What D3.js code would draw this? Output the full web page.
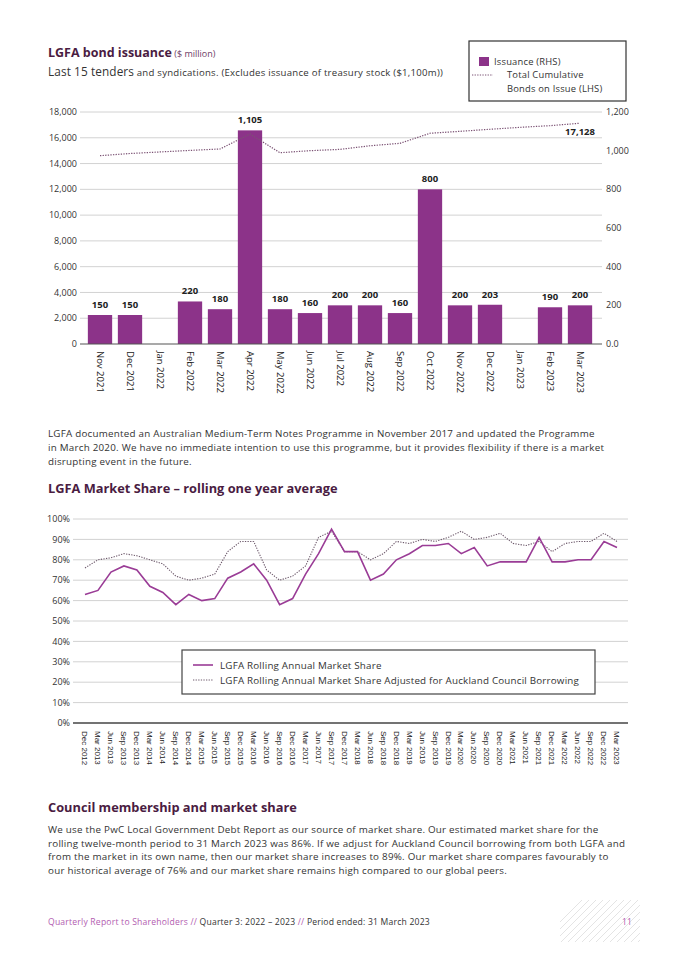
<!DOCTYPE html>
<html>
<head>
<meta charset="utf-8">
<title>LGFA bond issuance and market share</title>
<script src="https://cdn.jsdelivr.net/npm/d3@7/dist/d3.min.js"></script>
<style>
body { margin: 0; background: #fff; }
svg { display: block; font-family: "Open Sans", sans-serif; }
</style>
</head>
<body>
<script>

// ---- data: bond issuance (last 15 tenders) ----
var issueMonths = ["Nov 2021","Dec 2021","Jan 2022","Feb 2022","Mar 2022","Apr 2022","May 2022","Jun 2022",
    "Jul 2022","Aug 2022","Sep 2022","Oct 2022","Nov 2022","Dec 2022","Jan 2023","Feb 2023","Mar 2023"];
var issuance = [150,150,null,220,180,1105,180,160,200,200,160,800,200,203,null,190,200];
var cumulative = [14610,14780,14900,15020,15130,16290,14840,15000,15100,15380,15570,16350,16500,16660,16810,16940,17128];
var leftTicks = [0,2000,4000,6000,8000,10000,12000,14000,16000,18000];
var rightTicks = [0,200,400,600,800,1000,1200];
var rightTickLabels = ["0.0","200","400","600","800","1,000","1,200"];

// ---- data: market share, quarterly ----
var quarters = ["Dec 2012","Mar 2013","Jun 2013","Sep 2013","Dec 2013","Mar 2014","Jun 2014","Sep 2014","Dec 2014",
    "Mar 2015","Jun 2015","Sep 2015","Dec 2015","Mar 2016","Jun 2016","Sep 2016","Dec 2016","Mar 2017","Jun 2017",
    "Sep 2017","Dec 2017","Mar 2018","Jun 2018","Sep 2018","Dec 2018","Mar 2019","Jun 2019","Sep 2019","Dec 2019",
    "Mar 2020","Jun 2020","Sep 2020","Dec 2020","Mar 2021","Jun 2021","Sep 2021","Dec 2021","Mar 2022","Jun 2022",
    "Sep 2022","Dec 2022","Mar 2023"];
var shareRolling = [63,65,74,77,75,67,64,58,63,60,61,71,74,78,70,58,61,73,83,95,84,84,70,73,80,83,87,87,88,83,86,77,79,79,79,91,79,79,80,80,89,86];
var shareAdjusted = [76,80,81,83,82,80,78,72,70,71,73,84,89,89,75,70,72,77,91,94,84,84,80,83,89,88,90,89,91,94,90,91,93,88,87,89,84,88,89,89,93,89];
var shareTicks = [0,10,20,30,40,50,60,70,80,90,100];

var purple = "#8c3389",
    heading = "#4a1c42",
    body = "#333";

var svg = d3.select("body").append("svg")
    .attr("width", 675)
    .attr("height", 955);

// ---------- titles ----------
var t1 = svg.append("text").attr("x", 48).attr("y", 57).attr("fill", heading);
t1.append("tspan").attr("font-size", 12.5).attr("font-weight", 700).text("LGFA bond issuance");
t1.append("tspan").attr("font-size", 9).attr("fill", "#6d3d66").text(" ($ million)");

var t2 = svg.append("text").attr("x", 48).attr("y", 76).attr("fill", body);
t2.append("tspan").attr("font-size", 11.8).attr("letter-spacing", 0.1).text("Last 15 tenders");
t2.append("tspan").attr("font-size", 9.6).attr("letter-spacing", 0.25)
    .text(" and syndications. (Excludes issuance of treasury stock ($1,100m))");

// ---------- chart 1 ----------
var x1 = d3.scaleBand().domain(issueMonths).range([85, 595]).paddingInner(0.19).paddingOuter(0.095);
var yL = d3.scaleLinear().domain([0, 18000]).range([344, 112]);
var yR = d3.scaleLinear().domain([0, 1200]).range([344, 112]);

var c1 = svg.append("g");

c1.selectAll("line.grid").data(leftTicks.slice(1)).enter().append("line")
    .attr("x1", 80).attr("x2", 602)
    .attr("y1", function(d) { return yL(d); }).attr("y2", function(d) { return yL(d); })
    .attr("stroke", "#d2d2d2").attr("stroke-width", 1);

c1.selectAll("text.yl").data(leftTicks).enter().append("text")
    .attr("x", 77).attr("y", function(d) { return yL(d); }).attr("dy", "0.35em")
    .attr("text-anchor", "end").attr("font-size", 9).attr("fill", body)
    .text(d3.format(","));

c1.selectAll("text.yr").data(rightTicks).enter().append("text")
    .attr("x", 606).attr("y", function(d) { return yR(d); }).attr("dy", "0.35em")
    .attr("font-size", 9).attr("fill", body)
    .text(function(d, i) { return rightTickLabels[i]; });

var bars = issueMonths.map(function(m, i) { return {m: m, v: issuance[i]}; }).filter(function(d) { return d.v != null; });

c1.selectAll("rect.bar").data(bars).enter().append("rect")
    .attr("x", function(d) { return x1(d.m); })
    .attr("width", x1.bandwidth())
    .attr("y", function(d) { return yR(d.v); })
    .attr("height", function(d) { return yR(0) - yR(d.v); })
    .attr("fill", purple);

c1.selectAll("text.bl").data(bars).enter().append("text")
    .attr("x", function(d) { return x1(d.m) + x1.bandwidth() / 2; })
    .attr("y", function(d) { return yR(d.v) - 7; })
    .attr("text-anchor", "middle").attr("font-size", 9.5).attr("font-weight", 700).attr("fill", "#222")
    .text(function(d) { return d3.format(",")(d.v); });

c1.append("line").attr("x1", 80).attr("x2", 602).attr("y1", 344).attr("y2", 344)
    .attr("stroke", "#555").attr("stroke-width", 1.2);

var cumLine = d3.line()
    .x(function(d, i) { return x1(issueMonths[i]) + x1.bandwidth() / 2; })
    .y(function(d) { return yL(d); });

c1.append("path").datum(cumulative).attr("d", cumLine)
    .attr("fill", "none").attr("stroke", "#7b5274").attr("stroke-width", 1.2)
    .attr("stroke-dasharray", "1.3,1.3");

c1.append("text")
    .attr("x", x1(issueMonths[16]) + x1.bandwidth() / 2).attr("y", yL(cumulative[16]) + 12)
    .attr("text-anchor", "middle").attr("font-size", 9.5).attr("font-weight", 700).attr("fill", "#222")
    .text(d3.format(",")(cumulative[16]));

c1.selectAll("text.xl").data(issueMonths).enter().append("text")
    .attr("transform", function(d) { return "translate(" + (x1(d) + x1.bandwidth() / 2) + ",351) rotate(90)"; })
    .attr("dy", "0.35em").attr("font-size", 9.5).attr("fill", "#222")
    .text(function(d) { return d; });

// legend 1
var lg1 = svg.append("g").attr("font-size", 9.4).attr("letter-spacing", 0.2).attr("fill", body);
lg1.append("rect").attr("x", 469).attr("y", 41).attr("width", 157).attr("height", 60)
    .attr("fill", "#fff").attr("stroke", "#333").attr("stroke-width", 1.2);
lg1.append("rect").attr("x", 479).attr("y", 57).attr("width", 10).attr("height", 9).attr("fill", purple);
lg1.append("text").attr("x", 494).attr("y", 64.5).text("Issuance (RHS)");
lg1.append("line").attr("x1", 472).attr("x2", 493).attr("y1", 75).attr("y2", 75)
    .attr("stroke", "#7b5274").attr("stroke-width", 1).attr("stroke-dasharray", "1.3,1.3");
lg1.append("text").attr("x", 507).attr("y", 78).text("Total Cumulative");
lg1.append("text").attr("x", 507).attr("y", 92).text("Bonds on Issue (LHS)");

// ---------- paragraph 1 ----------
var para1 = ["LGFA documented an Australian Medium-Term Notes Programme in November 2017 and updated the Programme",
    "in March 2020. We have no immediate intention to use this programme, but it provides flexibility if there is a market",
    "disrupting event in the future."];
svg.selectAll("text.p1").data(para1).enter().append("text")
    .attr("x", 48).attr("y", function(d, i) { return 436.5 + i * 14.3; })
    .attr("font-size", 9.8).attr("letter-spacing", 0.24).attr("fill", body).text(function(d) { return d; });

svg.append("text").attr("x", 48).attr("y", 493).attr("font-size", 12.8).attr("font-weight", 700)
    .attr("fill", heading).text("LGFA Market Share \u2013 rolling one year average");

// ---------- chart 2 ----------
var x2 = d3.scalePoint().domain(quarters).range([85, 617]);
var y2 = d3.scaleLinear().domain([0, 100]).range([723, 519]);
var c2 = svg.append("g");

c2.selectAll("line.grid").data(shareTicks.slice(1)).enter().append("line")
    .attr("x1", 73).attr("x2", 628)
    .attr("y1", function(d) { return y2(d); }).attr("y2", function(d) { return y2(d); })
    .attr("stroke", "#d2d2d2").attr("stroke-width", 1);

c2.append("line").attr("x1", 73).attr("x2", 628).attr("y1", y2(0)).attr("y2", y2(0))
    .attr("stroke", "#444").attr("stroke-width", 1.5);

c2.selectAll("text.yl").data(shareTicks).enter().append("text")
    .attr("x", 70).attr("y", function(d) { return y2(d); }).attr("dy", "0.35em")
    .attr("text-anchor", "end").attr("font-size", 9).attr("fill", body)
    .text(function(d) { return d + "%"; });

var shareLine = d3.line()
    .x(function(d, i) { return x2(quarters[i]); })
    .y(function(d) { return y2(d); });

c2.append("path").datum(shareAdjusted).attr("d", shareLine)
    .attr("fill", "none").attr("stroke", "#6e5a6c").attr("stroke-width", 1.1)
    .attr("stroke-dasharray", "1.3,1.3");
c2.append("path").datum(shareRolling).attr("d", shareLine)
    .attr("fill", "none").attr("stroke", "#9a3c96").attr("stroke-width", 1.6);

c2.selectAll("text.xl").data(quarters).enter().append("text")
    .attr("transform", function(d) { return "translate(" + x2(d) + ",731) rotate(90)"; })
    .attr("dy", "0.35em").attr("font-size", 8).attr("font-family", "Liberation Sans, Arial, sans-serif")
    .attr("fill", "#222").text(function(d) { return d; });

// legend 2
var lg2 = svg.append("g").attr("font-size", 9.8).attr("letter-spacing", 0.2).attr("fill", body);
lg2.append("rect").attr("x", 182).attr("y", 650).attr("width", 413).attr("height", 44)
    .attr("fill", "#fff").attr("stroke", "#444").attr("stroke-width", 1.2);
lg2.append("line").attr("x1", 193).attr("x2", 213).attr("y1", 665).attr("y2", 665)
    .attr("stroke", "#9a3c96").attr("stroke-width", 1.6);
lg2.append("text").attr("x", 220).attr("y", 668.5).text("LGFA Rolling Annual Market Share");
lg2.append("line").attr("x1", 193).attr("x2", 213).attr("y1", 680).attr("y2", 680)
    .attr("stroke", "#6e5a6c").attr("stroke-width", 1).attr("stroke-dasharray", "1.3,1.3");
lg2.append("text").attr("x", 220).attr("y", 683.5)
    .text("LGFA Rolling Annual Market Share Adjusted for Auckland Council Borrowing");

// ---------- paragraph 2 ----------
svg.append("text").attr("x", 48).attr("y", 812).attr("font-size", 12.8).attr("font-weight", 700)
    .attr("fill", heading).text("Council membership and market share");

var para2 = ["We use the PwC Local Government Debt Report as our source of market share. Our estimated market share for the",
    "rolling twelve-month period to 31 March 2023 was 86%. If we adjust for Auckland Council borrowing from both LGFA and",
    "from the market in its own name, then our market share increases to 89%. Our market share compares favourably to",
    "our historical average of 76% and our market share remains high compared to our global peers."];
svg.selectAll("text.p2").data(para2).enter().append("text")
    .attr("x", 48).attr("y", function(d, i) { return 833 + i * 13.5; })
    .attr("font-size", 9.8).attr("letter-spacing", 0.24).attr("fill", body).text(function(d) { return d; });

// ---------- footer ----------
var hatch = svg.append("g");
hatch.append("clipPath").attr("id", "hclip").append("rect")
    .attr("x", 560).attr("y", 900).attr("width", 80).attr("height", 42);
d3.range(540, 660, 7).forEach(function(hx) {
    hatch.append("line").attr("clip-path", "url(#hclip)")
        .attr("x1", hx).attr("y1", 942).attr("x2", hx + 42).attr("y2", 900)
        .attr("stroke", "#e4e4e4").attr("stroke-width", 1);
});

var ft = svg.append("text").attr("x", 48).attr("y", 925).attr("font-size", 8.6)
    .attr("letter-spacing", 0.2).attr("fill", body);
ft.append("tspan").attr("fill", "#b25cb0").text("Quarterly Report to Shareholders // ");
ft.append("tspan").text("Quarter 3: 2022 \u2013 2023 ");
ft.append("tspan").attr("fill", "#b25cb0").text("// ");
ft.append("tspan").text("Period ended: 31 March 2023");

svg.append("text").attr("x", 622).attr("y", 925).attr("font-size", 8.6).attr("fill", "#b25cb0").text("11");

</script>
</body>
</html>
